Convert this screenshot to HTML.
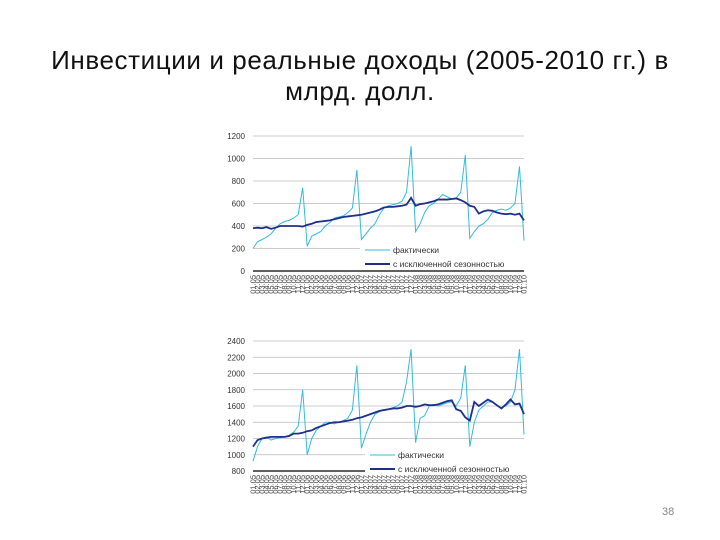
<!DOCTYPE html>
<html><head><meta charset="utf-8"><style>
body{margin:0;width:720px;height:540px;background:#fff;overflow:hidden;font-family:"Liberation Sans",sans-serif}
#title{position:absolute;left:0;top:45px;width:720px;text-align:center;font-size:26px;line-height:31px;color:#111;letter-spacing:0.6px}
#pg{position:absolute;left:662px;top:506px;font-size:11px;color:#888}
svg{position:absolute;left:0;top:0}
</style></head><body>
<div id="title">Инвестиции и реальные доходы (2005-2010 гг.) в<br>млрд. долл.</div>
<div id="pg">38</div>
<svg id="s" width="720" height="540"></svg>
<script>
const months1=[];for(let y=5;y<=10;y++)for(let m=1;m<=12;m++){if(y==10&&m>1)break;months1.push(String(m).padStart(2,'0')+'.'+String(y).padStart(2,'0'));}
const invTicks=[0,200,400,600,800,1000,1200];
const invActual=[200,260,280,300,330,380,420,440,450,470,500,740,220,310,330,350,400,430,470,480,490,520,560,900,280,330,380,420,500,560,580,590,600,620,700,1110,350,420,520,580,600,640,680,660,640,650,700,1030,290,350,400,420,460,520,540,550,540,560,600,930,270];
const invAdj=[380,385,380,390,375,385,400,400,400,400,400,395,410,420,435,440,445,450,460,470,480,485,490,495,500,510,520,530,545,565,570,570,575,580,590,650,580,595,600,610,620,635,635,635,640,645,630,610,580,570,510,530,540,535,520,510,505,510,500,510,450];
const incTicks=[800,1000,1200,1400,1600,1800,2000,2200,2400];
const incActual=[920,1100,1200,1220,1180,1200,1210,1220,1240,1280,1350,1800,1000,1200,1300,1350,1400,1400,1380,1400,1420,1450,1550,2100,1080,1250,1400,1500,1530,1550,1560,1580,1600,1650,1900,2300,1150,1450,1480,1600,1620,1600,1620,1640,1650,1600,1700,2100,1100,1400,1550,1600,1650,1650,1600,1580,1600,1650,1800,2300,1250];
const incAdj=[1100,1180,1200,1210,1220,1220,1220,1220,1230,1260,1260,1270,1290,1300,1330,1350,1370,1390,1400,1400,1410,1420,1430,1450,1460,1480,1500,1520,1540,1550,1560,1570,1570,1580,1600,1600,1590,1600,1620,1610,1610,1620,1640,1660,1670,1560,1540,1460,1420,1650,1600,1640,1680,1650,1610,1570,1620,1680,1620,1630,1500];
const NS='http://www.w3.org/2000/svg',svg=document.getElementById('s');
function mk(t,a,p){const e=document.createElementNS(NS,t);for(const k in a)e.setAttribute(k,a[k]);(p||svg).appendChild(e);return e;}
function chart(cfg){
 const g=mk('g',{});
 
 
 const x0=253,x1=524,n=cfg.act.length;
 const xs=i=>x0+i*(x1-x0)/(n-1);
 const ys=v=>cfg.yb-(v-cfg.min)/(cfg.max-cfg.min)*(cfg.yb-cfg.yt);
 cfg.ticks.forEach(t=>{
  const l=mk('line',{x1:x0,x2:x1,y1:ys(t),y2:ys(t),stroke:t==cfg.min?'#000':'#bbb','stroke-width':t==cfg.min?1.2:0.8},g);
  
  
  const tx=mk('text',{x:245,y:ys(t)+3,'text-anchor':'end','font-size':8,fill:'#333'},g);tx.textContent=t;
  
  
 });
 months1.forEach((m,i)=>{
  const tx=mk('text',{x:0,y:0,'font-size':7.5,fill:'#444','text-anchor':'end',transform:`translate(${xs(i)+2.5},${cfg.yb+4}) rotate(-90)`},g);tx.textContent=m;
  
  
 });
 const pa=mk('polyline',{points:cfg.act.map((v,i)=>xs(i)+','+ys(v)).join(' '),fill:'none',stroke:'#33bbe0','stroke-width':1},g);
 
 
 const pb=mk('polyline',{points:cfg.adj.map((v,i)=>xs(i)+','+ys(v)).join(' '),fill:'none',stroke:'#1f2f8a','stroke-width':1.8},g);
 
 
 const lg=mk('g',{},g);
 
 
 mk('rect',{x:cfg.lx,y:cfg.ly-10,width:524-cfg.lx,height:27,fill:'#fff'},lg);
 mk('line',{x1:cfg.lx+5,x2:cfg.lx+30,y1:cfg.ly-3,y2:cfg.ly-3,stroke:'#33bbe0','stroke-width':1},lg);
 let t=mk('text',{x:cfg.lx+33,y:cfg.ly,'font-size':8.5,fill:'#333'},lg);t.textContent='фактически';
 mk('line',{x1:cfg.lx+5,x2:cfg.lx+30,y1:cfg.ly+11,y2:cfg.ly+11,stroke:'#1f2f8a','stroke-width':2},lg);
 t=mk('text',{x:cfg.lx+33,y:cfg.ly+14,'font-size':8.5,fill:'#333'},lg);t.textContent='с исключенной сезонностью';
}
chart({name:'investment-chart',act:invActual,adj:invAdj,ticks:invTicks,min:0,max:1200,yt:136,yb:271,lx:360,ly:253});
chart({name:'income-chart',act:incActual,adj:incAdj,ticks:incTicks,min:800,max:2400,yt:341,yb:471,lx:365,ly:458});
</script>
</body></html>
